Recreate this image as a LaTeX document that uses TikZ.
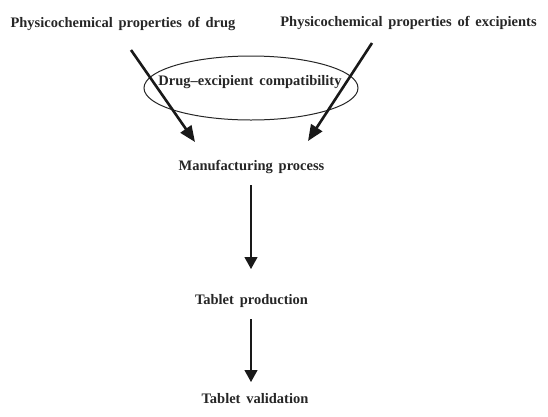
\documentclass[tikz,border=0pt]{standalone}
\usepackage{fontspec}
\setmainfont{Liberation Serif}[WordSpace=1.6]
\usetikzlibrary{arrows.meta,shapes.geometric}
\tikzset{
  lbl/.style={font=\bfseries\fontsize{14.5}{17}\selectfont, inner sep=0pt, text=black!85},
  thickarr/.style={line width=2.6pt, -{Triangle[length=16pt,width=13pt]}, black!90},
  thinarr/.style={line width=1.1pt, -{Triangle[length=12pt,width=13pt]}, black!90},
}
\begin{document}
\begin{tikzpicture}[x=1pt,y=-1pt]
\useasboundingbox (0,0) rectangle (548,416);
\node[lbl] (drug) at (123,24) {Physicochemical properties of drug};
\node[lbl] (exc) at (408.5,23) {Physicochemical properties of excipients};
\node[draw, ellipse, line width=1pt, minimum width=214, minimum height=64, inner sep=0pt, black!85] (ell) at (251,88) {};
\node[lbl] (comp) at (250,82) {Drug--excipient compatibility};
\node[lbl] (manu) at (251.5,167) {Manufacturing process};
\node[lbl] (prod) at (251.5,301) {Tablet production};
\node[lbl] (val) at (255,399) {Tablet validation};
\coordinate (s1) at (131,50);
\coordinate (e1) at (195,142);
\coordinate (s2) at (372,43);
\coordinate (e2) at (308,141);
\coordinate (a1s) at (251,185);
\coordinate (a1e) at (251,269);
\coordinate (a2s) at (251,319);
\coordinate (a2e) at (251,382);
\draw[thickarr] (s1) -- (e1);
\draw[thickarr] (s2) -- (e2);
\draw[thinarr] (a1s) -- (a1e);
\draw[thinarr] (a2s) -- (a2e);
\end{tikzpicture}
\end{document}
